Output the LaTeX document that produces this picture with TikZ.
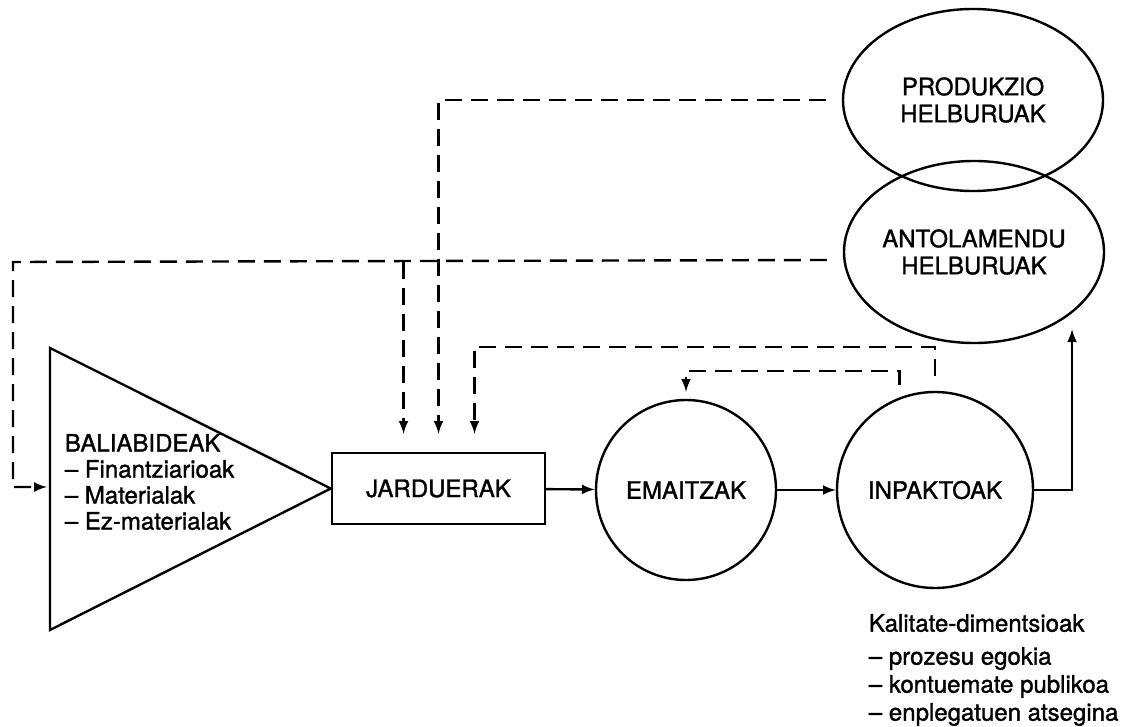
\documentclass[tikz,border=0pt]{standalone}
\usepackage{fontspec}
\setmainfont{TeX Gyre Heros}[RawFeature={embolden=1.3}]
\usepackage{tikz}
\tikzset{>=latex}
\usetikzlibrary{calc,shapes.geometric}

\tikzset{
  fb/.style={dash pattern=on 8.5pt off 4.5pt},
  blok/.style={draw, inner sep=0pt, align=center},
}

\begin{document}
\begin{tikzpicture}[x=0.5pt, y=-0.5pt, line width=1.2pt, font=\fontsize{12}{13.5}\selectfont]
    \useasboundingbox (0, 0) rectangle (1139, 727);
    \node[blok, rectangle, minimum width=106.5pt, minimum height=35.5pt] (jard) at (438.5, 488.5) {JARDUERAK};
    \node[blok, circle, minimum size=90pt] (emai) at (686, 490) {EMAITZAK};
    \node[blok, circle, minimum size=98pt] (inpa) at (935, 490) {INPAKTOAK};
    \node[blok, ellipse, minimum width=130pt, minimum height=91pt] (prod) at (973, 100) {PRODUKZIO\\HELBURUAK};
    \node[blok, ellipse, minimum width=130pt, minimum height=91pt] (antol) at (974, 252) {ANTOLAMENDU\\HELBURUAK};
    % baliabideak
    \draw (50, 348) -- (50, 630) -- (jard.west) -- cycle;
    \coordinate (bal) at (47, 487);
    \node[anchor=west, align=left, font=\fontsize{12}{13}\selectfont] (baltxt) at (57, 482)
      {BALIABIDEAK\\-- Finantziarioak\\-- Materialak\\-- Ez-materialak};
    \node[anchor=west, align=left, font=\fontsize{12}{14}\selectfont] (kal) at (861, 670)
      {Kalitate-dimentsioak\\[2.5pt]-- prozesu egokia\\-- kontuemate publikoa\\-- enplegatuen atsegina};

    \draw[->] (jard) -- (emai);
    \draw[->] (emai) -- (inpa);
    \draw[->, shorten >=8pt] (inpa.east) -| (antol.-32);

    % feedback
    \coordinate (inL) at ([xshift=-17.5pt]jard.north);
    \coordinate (inR) at ([xshift=18pt]jard.north);
    \coordinate (cL) at (13, 262);
    \draw[fb, ->, shorten >=9pt] ([xshift=-8pt]prod.west) -| (jard.north);
    \draw[fb, ->] ([shift={(-8pt,-4pt)}]antol.west) -- (cL) |- (bal);
    \draw[fb, ->, shorten >=9pt] (inL |- cL) -- (inL);
    \draw[fb, ->, shorten <=7.5pt, shorten >=9pt] (inpa.north) -- ++(0, -44) -| (inR);
    \draw[fb, ->, shorten <=6pt, shorten >=3.5pt] (inpa.111) -- ++(0, -26.5) -| (emai.north);
\end{tikzpicture}
\end{document}
